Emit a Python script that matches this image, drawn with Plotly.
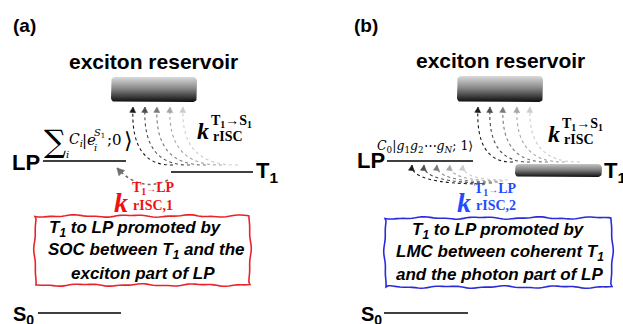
import math
import plotly.graph_objects as go

# ---------------- content (texts / values) ----------------
panel_labels = ["(a)", "(b)"]
reservoir_title = "exciton reservoir"
level_lp = "LP"
level_t1 = "T<sub>1</sub>"
level_s0 = "S<sub>0</sub>"
k_main = "k"
k_up_sup = "T<sub>1</sub>→S<sub>1</sub>"
k_up_sub = "rISC"
k_lp_sup = "T<sub>1</sub><span style='font-size:10px'>→</span>LP"
k_lp_sub_a = "rISC,1"
k_lp_sub_b = "rISC,2"
box_lines_a = ["T<sub>1</sub> to LP promoted by",
               "SOC between T<sub>1</sub> and the",
               "exciton part of LP"]
box_lines_b = ["T<sub>1</sub> to LP promoted by",
               "LMC between coherent T<sub>1</sub>",
               "and the photon part of LP"]
formula_b = "<i>C</i><sub>0</sub>|<i>g</i><sub>1</sub><i>g</i><sub>2</sub>⋯<i>g<sub>N</sub></i>; 1⟩"
arrow_shades = ["#1a1a1a", "#4d4d4d", "#7a7a7a", "#a6a6a6", "#cccccc"]

# ---------------- geometry (pixel layout of the schematic) ----------------
W, H = 623, 324
SANS = "Liberation Sans, Arial, sans-serif"
SERIF = "Liberation Serif, Times New Roman, serif"
MATH = "DejaVu Serif, serif"
RED = "#ee1111"
BLUE = "#1f4cff"
RED_BOX = "#e8232a"
BLUE_BOX = "#2b2bd9"

fig = go.Figure()
shapes = []
annos = []


def txt(x, y, s, size, family=SANS, color="black", xa="center", ya="middle"):
    annos.append(dict(x=x, y=y, xref="x", yref="y", text=s, showarrow=False,
                      font=dict(size=size, family=family, color=color),
                      xanchor=xa, yanchor=ya, borderpad=0))


def hline(x0, x1, y, w=1.6, color="black"):
    shapes.append(dict(type="line", x0=x0, x1=x1, y0=y, y1=y, xref="x", yref="y",
                       line=dict(color=color, width=w)))


def rounded(x0, y0, x1, y1, r):
    xs, ys = [], []
    corners = [(x1 - r, y0 + r, -90, 0), (x1 - r, y1 - r, 0, 90),
               (x0 + r, y1 - r, 90, 180), (x0 + r, y0 + r, 180, 270)]
    for cx, cy, a0, a1 in corners:
        for k in range(7):
            a = math.radians(a0 + (a1 - a0) * k / 6)
            xs.append(cx + r * math.cos(a))
            ys.append(cy + r * math.sin(a))
    xs.append(xs[0]); ys.append(ys[0])
    return xs, ys


def grad_box(x0, y0, x1, y1, r, scale):
    xs, ys = rounded(x0, y0, x1, y1, r)
    fig.add_trace(go.Scatter(x=xs, y=ys, mode="lines", fill="toself",
                             line=dict(width=0, color="rgba(0,0,0,0)"),
                             fillgradient=dict(type="vertical", colorscale=scale,
                                               start=y0, stop=y1),
                             hoverinfo="skip", showlegend=False))


def curve_arrow(p0, c, p1, color, w=1.1, head=5.5, hw=3.0):
    path = f"M {p0[0]},{p0[1]} Q {c[0]},{c[1]} {p1[0]},{p1[1]}"
    shapes.append(dict(type="path", path=path, xref="x", yref="y",
                       line=dict(color=color, width=w, dash="dot")))
    dx, dy = p1[0] - c[0], p1[1] - c[1]
    n = math.hypot(dx, dy)
    ux, uy = dx / n, dy / n
    bx, by = p1[0] - ux * head, p1[1] - uy * head
    px, py = -uy * hw, ux * hw
    tri = (f"M {p1[0]},{p1[1]} L {bx + px},{by + py} L {bx - px},{by - py} Z")
    shapes.append(dict(type="path", path=tri, xref="x", yref="y",
                       fillcolor=color, line=dict(color=color, width=0.5)))


def wavy_box(x0, y0, x1, y1, color):
    pts = []
    step = 3.0
    def edge(xa, ya, xb, yb, ph):
        L = math.hypot(xb - xa, yb - ya)
        n = max(2, int(L / step))
        nx, ny = -(yb - ya) / L, (xb - xa) / L
        for i in range(n):
            t = i / n
            off = 0.9 * math.sin(t * L / 9.0 + ph) + 0.4 * math.sin(t * L / 3.7 + 2 * ph)
            pts.append((xa + (xb - xa) * t + nx * off, ya + (yb - ya) * t + ny * off))
    edge(x0, y0, x1, y0, 0.3)
    edge(x1, y0, x1, y1, 1.1)
    edge(x1, y1, x0, y1, 2.0)
    edge(x0, y1, x0, y0, 0.7)
    path = "M " + " L ".join(f"{x:.2f},{y:.2f}" for x, y in pts) + " Z"
    shapes.append(dict(type="path", path=path, xref="x", yref="y",
                       line=dict(color=color, width=1.6)))


def k_label(kpos, suppos, subpos, sup, sub, size, ssize, color, family=SERIF):
    txt(kpos[0], kpos[1], f"<b><i>{k_main}</i></b>", size, family, color, xa="left")
    txt(suppos[0], suppos[1], f"<b>{sup}</b>", ssize, family, color, xa="left")
    txt(subpos[0], subpos[1], f"<b>{sub}</b>", ssize, family, color, xa="left")


res_scale = [[0, "#dadada"], [0.45, "#8a8a8a"], [1, "#0d0d0d"]]

# ================= panel (a) =================
txt(24, 25, f"<b>{panel_labels[0]}</b>", 19)
txt(153, 61, f"<b>{reservoir_title}</b>", 21)
grad_box(111, 77, 197, 102, 4, res_scale)

a_head_x = [133, 145, 157, 170, 183]
a_tail_x = [173, 190, 206, 222, 238]
for hx, tx, col in zip(a_head_x, a_tail_x, arrow_shades):
    curve_arrow((tx, 165), (hx - 3, 166), (hx, 107), col)

k_label((196, 131), (210, 121), (212, 136), k_up_sup, k_up_sub, 24, 14, "black")

txt(26, 162, f"<b>{level_lp}</b>", 22)
hline(43, 126, 161)
# LP exciton-part formula
txt(55, 141, "∑", 31, MATH)
txt(67, 154, "<i>i</i>", 10, MATH)
txt(68, 140, "<i>C<sub>i</sub></i>", 14, MATH, xa="left")
txt(81, 140, "|<i>e</i>", 15, MATH, xa="left")
txt(93, 133, "<i>S</i><sub>1</sub>", 10, MATH, xa="left")
txt(93, 147, "<i>i</i>", 10, MATH, xa="left")
txt(106, 140, ";0", 15, MATH, xa="left")
txt(123, 140, "⟩", 22, MATH, xa="left")

hline(171, 253, 172)
txt(255, 172, f"<b>{level_t1}</b>", 22, xa="left")

curve_arrow((168, 180), (140, 193), (117, 168), "#6e6e6e", w=1.5, head=7, hw=4)
k_label((113, 202), (131, 188), (132, 205), k_lp_sup, k_lp_sub_a, 28, 14, RED)

wavy_box(35, 216, 250, 285, RED_BOX)
for yy, xx, line in zip([229, 251, 273], [135, 146, 143], box_lines_a):
    txt(xx, yy, f"<b><i>{line}</i></b>", 17)

txt(12, 315, f"<b>{level_s0}</b>", 20, xa="left")
hline(38, 121, 313)

# ================= panel (b) =================
txt(366, 25, f"<b>{panel_labels[1]}</b>", 19)
txt(500, 60, f"<b>{reservoir_title}</b>", 21)
grad_box(457, 76, 543, 102, 4, res_scale)

b_head_x = [478, 490, 503, 517, 530]
b_tail_x = [513, 530, 548, 565, 580]
for hx, tx, col in zip(b_head_x, b_tail_x, arrow_shades):
    curve_arrow((tx, 162), (hx - 3, 163), (hx, 107), col)

k_label((547, 134), (561, 124), (563, 139), k_up_sup, k_up_sub, 24, 14, "black")

txt(371, 160, f"<b>{level_lp}</b>", 22)
hline(387, 473, 161)
txt(376, 146, formula_b, 12.5, MATH, xa="left")

grad_box(515, 164, 602, 177, 4, [[0, "#c4c4c4"], [0.5, "#777777"], [1, "#0d0d0d"]])
txt(603, 172, f"<b>{level_t1}</b>", 22, xa="left")

lp_head_x = [412, 424, 437, 450, 463]
lp_tail_x = [485, 492, 498, 503, 508]
lp_tail_y = [184, 183, 182, 181, 180]
for hx, tx, ty, col in zip(lp_head_x, lp_tail_x, lp_tail_y, arrow_shades):
    curve_arrow((tx, ty), (hx - 2, ty), (hx, 165), col, head=5.5, hw=3)

k_label((456, 202), (473, 189), (475, 205), k_lp_sup, k_lp_sub_b, 28, 14, BLUE)

wavy_box(385, 218, 612, 287, BLUE_BOX)
for yy, xx, line in zip([231, 253, 274], [498, 500, 499], box_lines_b):
    txt(xx, yy, f"<b><i>{line}</i></b>", 17)

txt(360, 315, f"<b>{level_s0}</b>", 20, xa="left")
hline(384, 468, 313)

fig.update_layout(
    width=W, height=H, margin=dict(l=0, r=0, t=0, b=0, pad=0),
    paper_bgcolor="white", plot_bgcolor="white",
    xaxis=dict(range=[0, W], visible=False, fixedrange=True),
    yaxis=dict(range=[H, 0], visible=False, fixedrange=True),
    shapes=shapes, annotations=annos, showlegend=False,
)
fig.write_html("out.html", config={"displayModeBar": False},
               post_script="document.body.style.margin='0';document.body.style.overflow='hidden';")
